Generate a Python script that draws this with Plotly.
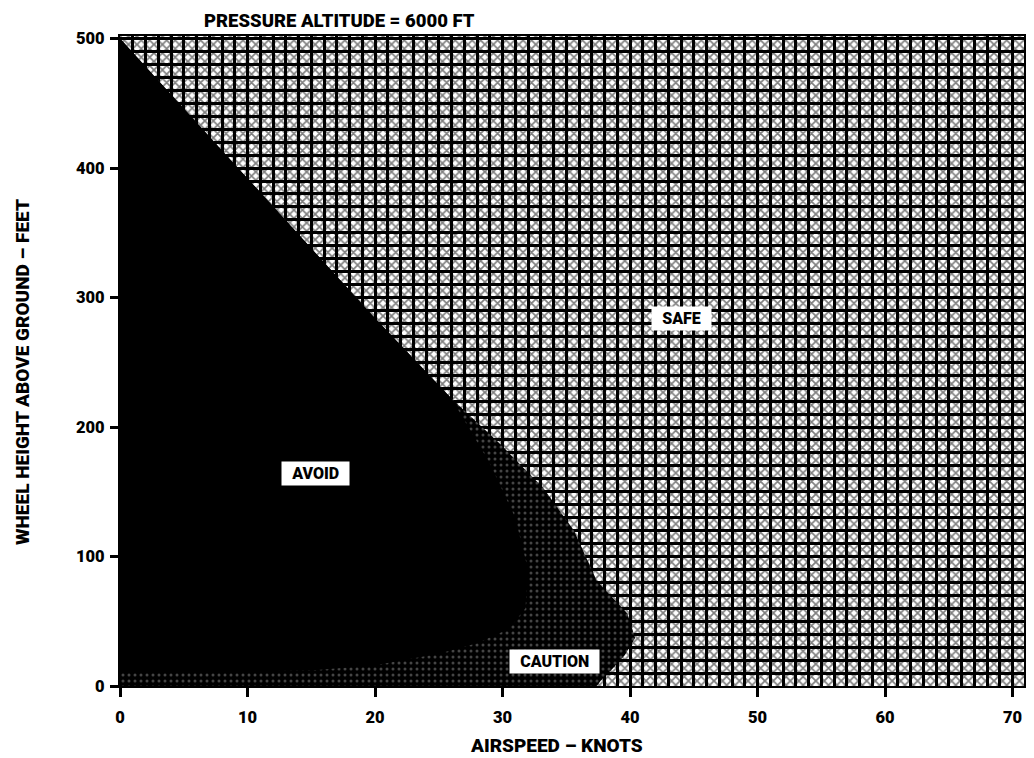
import plotly.graph_objects as go

# ---- data ----
# Outer boundary of the caution zone (against SAFE)
caution_airspeed = [0, 10, 20, 26, 29.8, 33.2, 35.6, 37.4, 39.8, 40.4, 39.6, 38.7, 37.7, 37.4, 0]
caution_height   = [500, 392, 284, 222, 187, 153, 120, 81, 56, 37, 24, 14, 4, 0, 0]

# Boundary of the solid AVOID zone
avoid_airspeed = [0, 10, 20, 26, 29, 31, 32, 31.8, 30.5, 28, 25, 20, 15, 8, 0]
avoid_height   = [500, 392, 284, 222, 172, 130, 90, 60, 44, 33, 25, 16, 12, 11, 11]

# Whole diagram domain (SAFE background)
safe_airspeed = [0, 72, 72, 0]
safe_height   = [0, 0, 510, 510]

x_ticks = [0, 10, 20, 30, 40, 50, 60, 70]
y_ticks = [0, 100, 200, 300, 400, 500]

zone_labels   = ["SAFE", "AVOID", "CAUTION"]
zone_label_x  = [44.06, 15.3, 34.1]
zone_label_y  = [284, 164, 19]

FONT = "Roboto, Liberation Sans, Arial, sans-serif"
W = 900

# plot area in page pixels (page has an 8px body margin)
PL, PT, PW, PH = 120, 36, 904, 650


def px(xp):
    return (xp - PL) / PW


def py(yp):
    return (PT + PH - yp) / PH


fig = go.Figure()

# safe region: dithered texture over the grid
fig.add_trace(go.Scatter(
    x=safe_airspeed, y=safe_height, mode="none", fill="toself",
    fillcolor="rgba(0,0,0,0)",
    fillpattern=dict(shape="x", fgcolor="black", bgcolor="rgba(0,0,0,0)",
                     size=6, solidity=0.48),
    hoverinfo="skip", showlegend=False))

# caution zone
fig.add_trace(go.Scatter(
    x=caution_airspeed, y=caution_height, mode="none", fill="toself",
    fillcolor="black",
    fillpattern=dict(shape=".", fgcolor="#8a8a8a", bgcolor="black", size=6, solidity=0.2),
    hoverinfo="skip", showlegend=False))

# avoid zone
fig.add_trace(go.Scatter(
    x=avoid_airspeed, y=avoid_height, mode="none", fill="toself",
    fillcolor="black", hoverinfo="skip", showlegend=False))

for t, xv, yv in zip(zone_labels, zone_label_x, zone_label_y):
    fig.add_annotation(x=xv, y=yv, text="\u2002" + t + "\u2002", showarrow=False,
                       font=dict(family=FONT, size=16, color="black", weight=W),
                       bgcolor="white", borderpad=2)

fig.add_annotation(x=px(339), y=py(21), xref="paper", yref="paper",
                   text="PRESSURE ALTITUDE = 6000 FT", showarrow=False,
                   font=dict(family=FONT, size=18.5, color="black", weight=W),
                   xanchor="center", yanchor="middle")

axis_common = dict(
    ticks="outside", tickwidth=3, tickcolor="black",
    showgrid=True, gridcolor="black", gridwidth=3,
    showline=True, linecolor="black", linewidth=2, mirror=True,
    zeroline=False, fixedrange=True, automargin=False,
    tickfont=dict(family=FONT, size=16.5, color="black", weight=W),
)

fig.update_layout(
    width=1026, height=750,
    margin=dict(l=112, r=10, t=28, b=72),
    paper_bgcolor="white", plot_bgcolor="white",
    font=dict(family=FONT, size=15, color="black"),
    showlegend=False,
    xaxis=dict(range=[0, 70.9], tickvals=x_ticks, ticklen=9, ticklabelstandoff=6,
               minor=dict(dtick=1, showgrid=True, gridcolor="black", gridwidth=3, ticks=""),
               **axis_common),
    yaxis=dict(range=[0, 502], tickvals=y_ticks, ticklen=8, ticklabelstandoff=2,
               minor=dict(dtick=10, showgrid=True, gridcolor="black", gridwidth=3, ticks=""),
               **axis_common),
)

# axis titles placed as in the reference
fig.add_annotation(x=px(556), y=py(745), xref="paper", yref="paper",
                   text="AIRSPEED – KNOTS", showarrow=False,
                   xanchor="center", yanchor="middle",
                   font=dict(family=FONT, size=19, weight=W))
fig.add_annotation(x=px(22), y=py(372), xref="paper", yref="paper",
                   text="WHEEL HEIGHT ABOVE GROUND – FEET", showarrow=False,
                   xanchor="center", yanchor="middle",
                   textangle=-90, font=dict(family=FONT, size=19, weight=W))

fig.write_html("out.html")
